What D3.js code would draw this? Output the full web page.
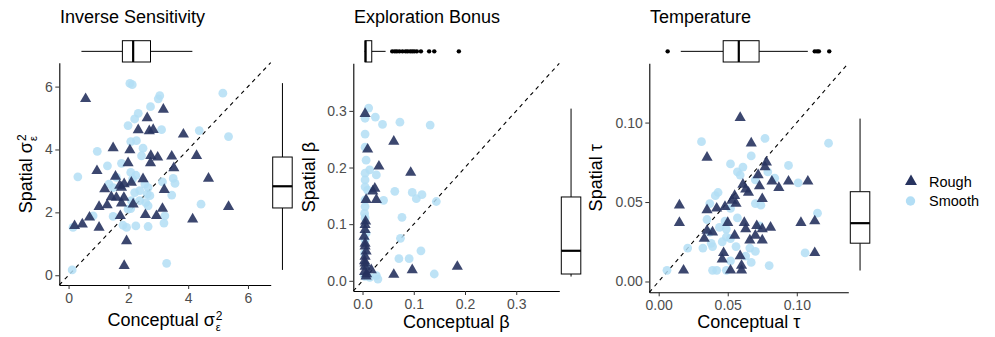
<!DOCTYPE html>
<html>
<head>
<meta charset="utf-8">
<script src="https://cdn.jsdelivr.net/npm/d3@7"></script>
<style>
  body { margin: 0; background: #fff; }
  svg { font-family: "Liberation Sans", Arial, Helvetica, sans-serif; }
</style>
</head>
<body>
<svg width="995" height="337"></svg>
<script>
// ---- data: [conceptual, spatial] per participant ----
var sensRough = [[0.57,5.61],[3.17,5.27],[2.63,5.00],[2.33,4.62],[2.70,4.59],[2.83,4.63],[3.84,4.48],[1.49,4.05],[2.05,3.98],[2.75,3.80],[2.98,3.75],[3.45,3.78],[4.28,3.80],[1.99,3.57],[2.74,3.57],[3.52,3.41],[0.95,3.32],[4.68,3.08],[1.57,3.14],[2.49,3.06],[2.10,2.95],[1.86,2.90],[1.77,2.79],[1.21,2.74],[3.20,2.72],[1.43,2.49],[1.85,2.47],[1.02,2.18],[1.29,2.23],[1.77,2.29],[2.16,2.26],[3.14,2.12],[5.35,2.18],[1.73,1.89],[2.57,1.92],[2.94,1.89],[0.70,1.84],[4.15,1.78],[0.20,1.57],[0.46,1.62],[1.02,1.52],[1.94,1.09],[1.86,0.30],[1.60,2.47],[1.71,2.85]];
var sensSmooth = [[2.05,6.10],[2.13,6.06],[3.05,5.71],[3.00,5.61],[5.16,5.79],[2.74,5.36],[2.33,5.15],[2.21,4.97],[1.99,4.76],[3.11,4.63],[4.37,4.60],[5.35,4.41],[2.08,4.25],[2.27,4.28],[2.49,4.04],[0.96,3.94],[2.44,3.80],[1.30,3.48],[1.77,3.56],[0.31,3.13],[2.25,3.18],[2.08,3.27],[2.14,3.06],[3.50,3.08],[3.56,2.92],[3.14,2.97],[1.35,2.90],[1.49,2.79],[1.60,3.11],[2.55,2.90],[2.66,2.79],[2.63,2.58],[2.72,2.53],[2.21,2.63],[2.38,2.69],[3.45,2.55],[2.10,2.37],[2.38,2.37],[2.58,2.31],[2.66,2.21],[1.99,2.10],[2.08,2.12],[4.43,2.26],[0.82,1.89],[1.49,1.87],[3.22,1.89],[3.19,1.66],[1.82,1.59],[1.94,1.52],[2.25,1.57],[2.66,1.55],[0.15,1.52],[3.28,0.38],[0.12,0.17]];

var bonusRough = [[0.005,0.295],[0.061,0.246],[0.010,0.232],[0.032,0.202],[0.094,0.191],[0.024,0.163],[0.020,0.158],[0.007,0.143],[0.027,0.143],[0.006,0.105],[0.005,0.099],[0.005,0.090],[0.003,0.078],[0.005,0.066],[0.005,0.061],[0.007,0.052],[0.005,0.043],[0.004,0.035],[0.005,0.031],[0.005,0.025],[0.004,0.016],[0.008,0.012],[0.007,0.008],[0.017,0.019],[0.061,0.011],[0.097,0.019],[0.185,0.025]];
var bonusSmooth = [[0.012,0.305],[0.005,0.287],[0.025,0.289],[0.039,0.276],[0.073,0.280],[0.132,0.275],[0.005,0.259],[0.005,0.236],[0.007,0.213],[0.014,0.196],[0.005,0.190],[0.027,0.187],[0.005,0.178],[0.005,0.166],[0.010,0.160],[0.063,0.158],[0.097,0.156],[0.105,0.145],[0.116,0.152],[0.041,0.142],[0.144,0.140],[0.005,0.143],[0.005,0.131],[0.004,0.119],[0.005,0.111],[0.077,0.112],[0.007,0.084],[0.005,0.072],[0.074,0.075],[0.114,0.053],[0.071,0.039],[0.091,0.039],[0.004,0.049],[0.007,0.025],[0.004,0.008],[0.014,0.006],[0.027,0.009],[0.030,0.003],[0.140,0.012]];

var tempRough = [[0.059,0.103],[0.067,0.087],[0.035,0.078],[0.078,0.075],[0.077,0.072],[0.072,0.067],[0.094,0.063],[0.108,0.063],[0.082,0.063],[0.087,0.059],[0.073,0.060],[0.061,0.061],[0.065,0.056],[0.063,0.058],[0.055,0.054],[0.056,0.049],[0.053,0.051],[0.075,0.052],[0.015,0.048],[0.048,0.047],[0.042,0.046],[0.035,0.045],[0.015,0.037],[0.050,0.037],[0.062,0.037],[0.071,0.035],[0.063,0.033],[0.075,0.033],[0.081,0.034],[0.103,0.037],[0.113,0.038],[0.035,0.032],[0.039,0.031],[0.033,0.027],[0.055,0.029],[0.066,0.026],[0.075,0.026],[0.070,0.029],[0.047,0.018],[0.046,0.014],[0.059,0.016],[0.060,0.010],[0.052,0.007],[0.060,0.007],[0.018,0.007],[0.113,0.018]];
var tempSmooth = [[0.031,0.088],[0.077,0.090],[0.123,0.087],[0.067,0.079],[0.052,0.074],[0.061,0.072],[0.094,0.073],[0.057,0.069],[0.059,0.067],[0.079,0.069],[0.084,0.065],[0.070,0.064],[0.101,0.062],[0.043,0.056],[0.041,0.054],[0.037,0.049],[0.070,0.049],[0.074,0.048],[0.052,0.046],[0.115,0.043],[0.035,0.039],[0.057,0.040],[0.048,0.038],[0.044,0.034],[0.049,0.033],[0.073,0.035],[0.037,0.031],[0.049,0.028],[0.052,0.027],[0.046,0.025],[0.038,0.024],[0.032,0.021],[0.021,0.021],[0.039,0.022],[0.056,0.022],[0.066,0.021],[0.070,0.019],[0.063,0.016],[0.052,0.013],[0.067,0.012],[0.080,0.010],[0.106,0.018],[0.006,0.007],[0.039,0.007],[0.042,0.007],[0.049,0.007]];

// marginal boxplots: [lower whisker, q1, median, q3, upper whisker] + outliers
var sensBoxX = [0.43, 1.80, 2.16, 2.74, 4.14];
var sensOutX = [];
var sensBoxY = [0.17, 2.14, 2.83, 3.76, 6.11];
var sensOutY = [];
var bonusBoxX = [0.004, 0.005, 0.006, 0.018, 0.045];
var bonusOutX = [0.058, 0.063, 0.067, 0.072, 0.078, 0.084, 0.088, 0.093, 0.097, 0.101, 0.106, 0.114, 0.130, 0.140, 0.188];
var bonusBoxY = [0.0075, 0.012, 0.053, 0.148, 0.304];
var bonusOutY = [];
var tempBoxX = [0.016, 0.0467, 0.058, 0.0727, 0.108];
var tempOutX = [0.0065, 0.113, 0.1147, 0.116, 0.1235];
var tempBoxY = [0.0069, 0.0241, 0.0367, 0.0565, 0.1025];
var tempOutY = [];

// tick labels
var sensTicks = [0, 2, 4, 6];
var bonusTicks = [0, 0.1, 0.2, 0.3];
var tempTicks = [0, 0.05, 0.10];

var groups = ["Rough", "Smooth"];
var roughCol = "#27335f";
var smoothCol = "#b3def5";

var svg = d3.select("svg");

var panels = [
  {title: "Inverse Sensitivity", rough: sensRough, smooth: sensSmooth,
   domain: [-0.31, 6.76], ticks: sensTicks, fmt: d3.format("d"),
   boxX: sensBoxX, outX: sensOutX, boxY: sensBoxY, outY: sensOutY,
   left: 59.3, right: 270.7, top: 62.7, bottom: 285, yLabX: 31.5, xLabY: 326,
   sym: "σ", sub: "ε", sup: "2"},
  {title: "Exploration Bonus", rough: bonusRough, smooth: bonusSmooth,
   domain: [-0.018, 0.384], ticks: bonusTicks, fmt: d3.format(".1f"),
   boxX: bonusBoxX, outX: bonusOutX, boxY: bonusBoxY, outY: bonusOutY,
   left: 353.3, right: 559.3, top: 63.3, bottom: 291, yLabX: 314.5, xLabY: 328,
   sym: "β"},
  {title: "Temperature", rough: tempRough, smooth: tempSmooth,
   domain: [-0.0068, 0.1373], ticks: tempTicks, fmt: d3.format(".2f"),
   boxX: tempBoxX, outX: tempOutX, boxY: tempBoxY, outY: tempOutY,
   left: 649.3, right: 848.3, top: 63.3, bottom: 292.3, yLabX: 602, xLabY: 328,
   sym: "τ"}
];

// one text element: "Spatial σ" + stacked super/subscript, centred on 0
function axisLabel(g, main, p) {
  var t = g.append("text").attr("font-size", 18).attr("fill", "#000")
    .attr("text-anchor", "middle");
  t.append("tspan").text(main + " " + p.sym);
  if (p.sup) {
    var sup = t.append("tspan").attr("font-size", 12).attr("dx", 1).attr("dy", -6).text(p.sup);
    var sw = sup.node().getComputedTextLength();
    t.append("tspan").attr("font-size", 11).attr("dx", -sw).attr("dy", 11).text(p.sub);
  }
}

panels.forEach(function(p) {
  var x = d3.scaleLinear().domain(p.domain).range([p.left, p.right]);
  var y = d3.scaleLinear().domain(p.domain).range([p.bottom, p.top]);
  var g = svg.append("g");

  // title
  g.append("text").attr("x", p.left + 0.7).attr("y", 23)
    .attr("font-size", 18).text(p.title);

  // axes
  var xa = g.append("g").attr("transform", "translate(0," + p.bottom + ")")
    .call(d3.axisBottom(x).tickValues(p.ticks).tickFormat(p.fmt)
      .tickSize(4).tickPadding(4).tickSizeOuter(0));
  var ya = g.append("g").attr("transform", "translate(" + p.left + ",0)")
    .call(d3.axisLeft(y).tickValues(p.ticks).tickFormat(p.fmt)
      .tickSize(4).tickPadding(2.5).tickSizeOuter(0));
  [xa, ya].forEach(function(a) {
    a.attr("font-family", null);
    a.select(".domain").attr("stroke", "#000").attr("stroke-width", 1.1);
    a.selectAll(".tick line").attr("stroke", "#333");
    a.selectAll(".tick text").attr("fill", "#4d4d4d").attr("font-size", 14);
  });

  // identity line
  g.append("line")
    .attr("x1", x(p.domain[0])).attr("y1", y(p.domain[0]))
    .attr("x2", x(p.domain[1])).attr("y2", y(p.domain[1]))
    .attr("stroke", "#000").attr("stroke-width", 1.1).attr("stroke-dasharray", "4,4");

  // points
  g.append("g").selectAll("circle").data(p.smooth).enter().append("circle")
    .attr("cx", d => x(d[0])).attr("cy", d => y(d[1])).attr("r", 4.4)
    .attr("fill", smoothCol).attr("fill-opacity", 0.85);
  g.append("g").selectAll("path").data(p.rough).enter().append("path")
    .attr("d", d3.symbol(d3.symbolTriangle, 54))
    .attr("transform", d => "translate(" + x(d[0]) + "," + y(d[1]) + ")")
    .attr("fill", roughCol).attr("fill-opacity", 0.9);

  // top marginal boxplot
  var by0 = 40.7, by1 = 62, bym = (by0 + by1) / 2;
  var bt = g.append("g").attr("stroke", "#000").attr("fill", "none");
  bt.append("line").attr("x1", x(p.boxX[0])).attr("x2", x(p.boxX[1])).attr("y1", bym).attr("y2", bym);
  bt.append("line").attr("x1", x(p.boxX[3])).attr("x2", x(p.boxX[4])).attr("y1", bym).attr("y2", bym);
  bt.append("rect").attr("x", x(p.boxX[1])).attr("y", by0)
    .attr("width", x(p.boxX[3]) - x(p.boxX[1])).attr("height", by1 - by0).attr("fill", "#fff");
  bt.append("line").attr("x1", x(p.boxX[2])).attr("x2", x(p.boxX[2]))
    .attr("y1", by0).attr("y2", by1).attr("stroke-width", 2.2);
  g.append("g").selectAll("circle").data(p.outX).enter().append("circle")
    .attr("cx", d => x(d)).attr("cy", bym).attr("r", 2.2).attr("fill", "#000");

  // right marginal boxplot
  var bx0 = p.right + 2, bx1 = p.right + 21.5, bxm = (bx0 + bx1) / 2;
  var br = g.append("g").attr("stroke", "#000").attr("fill", "none");
  br.append("line").attr("y1", y(p.boxY[0])).attr("y2", y(p.boxY[1])).attr("x1", bxm).attr("x2", bxm);
  br.append("line").attr("y1", y(p.boxY[3])).attr("y2", y(p.boxY[4])).attr("x1", bxm).attr("x2", bxm);
  br.append("rect").attr("x", bx0).attr("y", y(p.boxY[3]))
    .attr("width", bx1 - bx0).attr("height", y(p.boxY[1]) - y(p.boxY[3])).attr("fill", "#fff");
  br.append("line").attr("y1", y(p.boxY[2])).attr("y2", y(p.boxY[2]))
    .attr("x1", bx0).attr("x2", bx1).attr("stroke-width", 2.2);
  g.append("g").selectAll("circle").data(p.outY).enter().append("circle")
    .attr("cy", d => y(d)).attr("cx", bxm).attr("r", 2.2).attr("fill", "#000");

  // axis titles
  var xl = g.append("g").attr("transform", "translate(" + ((p.left + p.right) / 2) + "," + p.xLabY + ")");
  axisLabel(xl, "Conceptual", p);
  var yl = g.append("g").attr("transform", "translate(" + p.yLabX + "," + ((p.top + p.bottom) / 2) + ") rotate(-90)");
  axisLabel(yl, "Spatial", p);
});

// legend
var leg = svg.append("g");
groups.forEach(function(name, i) {
  var cy = 181.5 + i * 19.5;
  if (name === "Rough") {
    leg.append("path").attr("d", d3.symbol(d3.symbolTriangle, 62))
      .attr("transform", "translate(911," + cy + ")").attr("fill", roughCol);
  } else {
    leg.append("circle").attr("cx", 910.5).attr("cy", cy).attr("r", 4.7)
      .attr("fill", smoothCol);
  }
  leg.append("text").attr("x", 929).attr("y", cy).attr("dy", "0.36em")
    .attr("font-size", 14.5).text(name);
});
</script>
</body>
</html>
